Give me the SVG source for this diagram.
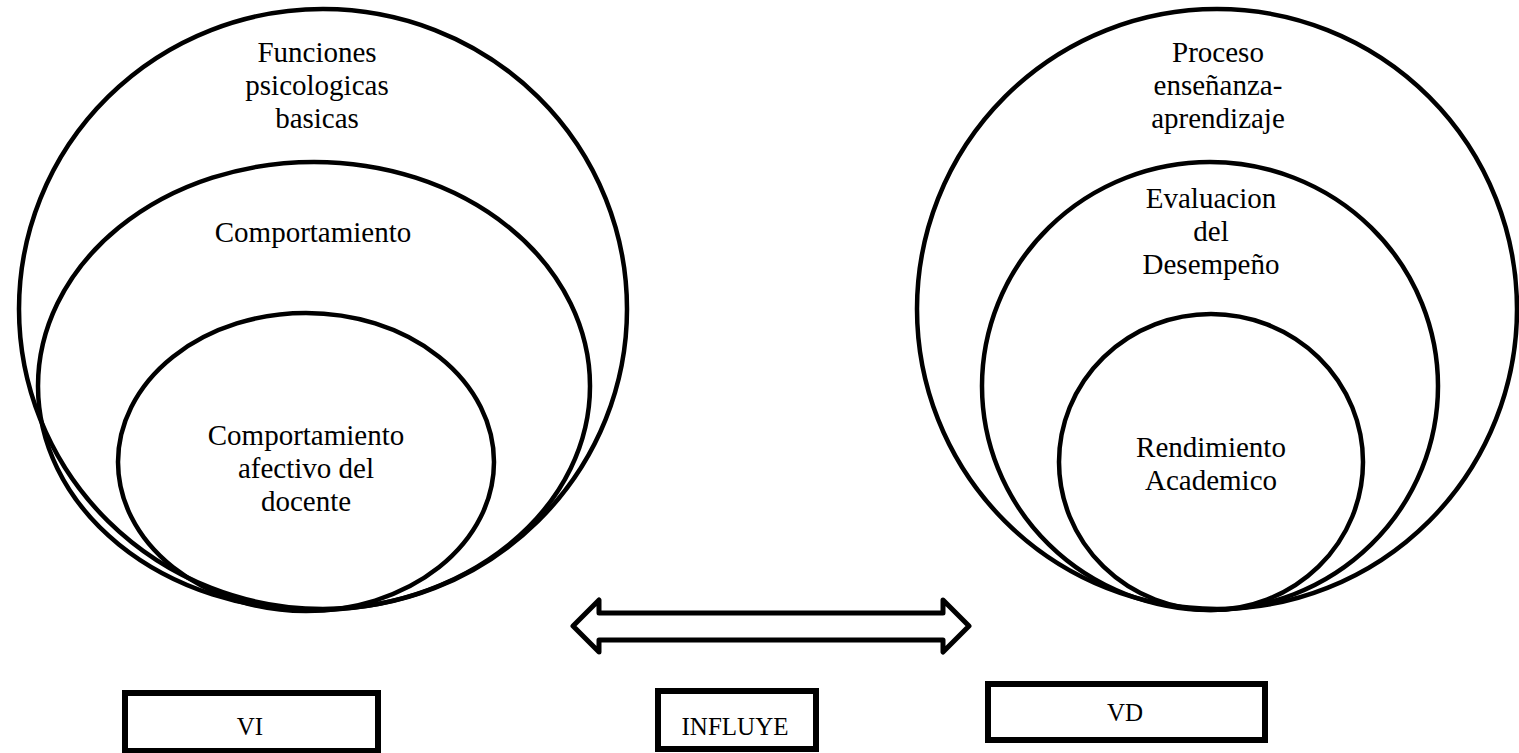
<svg xmlns="http://www.w3.org/2000/svg" width="1519" height="753" viewBox="0 0 1519 753">
<style>
.e{fill:none;stroke:#000;stroke-width:4.5}
.b{fill:#fff;stroke:#000;stroke-width:6}
.t{font-family:"Liberation Serif","Times New Roman",serif;font-size:29px;fill:#000;text-anchor:middle}
.s{font-family:"Liberation Serif","Times New Roman",serif;font-size:25px;fill:#000;text-anchor:middle}
</style>
<rect width="1519" height="753" fill="#fff"/>
<g id="vi-outer"><ellipse class="e" cx="323" cy="309" rx="304" ry="300"/><text class="t" x="317" y="62">Funciones</text><text class="t" x="317" y="95">psicologicas</text><text class="t" x="317" y="128">basicas</text></g>
<g id="vi-middle"><ellipse class="e" cx="314" cy="386" rx="276" ry="224"/><text class="t" x="313" y="242">Comportamiento</text></g>
<g id="vi-inner"><ellipse class="e" cx="306" cy="462" rx="188" ry="149"/><text class="t" x="306" y="445">Comportamiento</text><text class="t" x="306" y="478">afectivo del</text><text class="t" x="306" y="511">docente</text></g>
<g id="vd-outer"><ellipse class="e" cx="1217" cy="309" rx="300" ry="300"/><text class="t" x="1218" y="62">Proceso</text><text class="t" x="1218" y="95">enseñanza-</text><text class="t" x="1218" y="128">aprendizaje</text></g>
<g id="vd-middle"><ellipse class="e" cx="1210" cy="386" rx="228" ry="224"/><text class="t" x="1211" y="208">Evaluacion</text><text class="t" x="1211" y="241">del</text><text class="t" x="1211" y="274">Desempeño</text></g>
<g id="vd-inner"><ellipse class="e" cx="1211" cy="462" rx="152" ry="148"/><text class="t" x="1211" y="457">Rendimiento</text><text class="t" x="1211" y="490">Academico</text></g>
<g id="connectors"><polygon points="573,626 599,600 599,613 943,613 943,600 969,626 943,652 943,640 599,640 599,652" fill="#fff" stroke="#000" stroke-width="5" stroke-linejoin="round"/></g>
<g id="box-vi"><rect class="b" x="125" y="693" width="253" height="58"/><text class="s" x="250" y="735">VI</text></g>
<g id="box-influye"><rect class="b" x="658" y="691" width="158" height="58"/><text class="s" x="735" y="735">INFLUYE</text></g>
<g id="box-vd"><rect class="b" x="988" y="684" width="277" height="56"/><text class="s" x="1125" y="721">VD</text></g>
</svg>
